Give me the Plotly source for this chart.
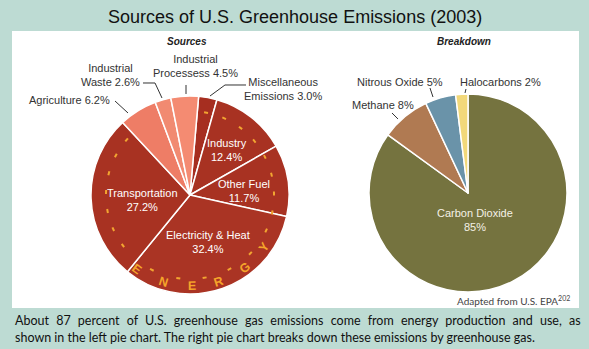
import math
import plotly.graph_objects as go

W, H = 589, 349

# ---------------- data ----------------
src_labels = ["Miscellaneous Emissions", "Industry", "Other Fuel", "Electricity & Heat",
              "Transportation", "Agriculture", "Industrial Waste", "Industrial Processess"]
src_values = [3.0, 12.4, 11.7, 32.4, 27.2, 6.2, 2.6, 4.5]
src_colors = ["#a62e20", "#a83222", "#a83222", "#aa3424", "#a83222",
              "#ee7d66", "#f18a71", "#f48b72"]

gas_labels = ["Carbon Dioxide", "Methane", "Nitrous Oxide", "Halocarbons"]
gas_values = [85, 8, 5, 2]
gas_colors = ["#75733f", "#b07a52", "#6a93a9", "#f2d87a"]

energy_letters = ["E", "N", "E", "R", "G", "Y"]


def px(x):
    return x / W


def py(y):
    return 1 - y / H


fig = go.Figure()

# left pie: center (190,195) r 99
fig.add_trace(go.Pie(
    labels=src_labels, values=src_values, sort=False, direction="clockwise",
    rotation=5, textinfo="none", hoverinfo="label+percent",
    marker=dict(colors=src_colors, line=dict(color="white", width=1.5)),
    domain=dict(x=[px(91), px(289)], y=[py(294), py(96)]),
    showlegend=False,
))
# right pie: center (468,193) r 99
fig.add_trace(go.Pie(
    labels=gas_labels, values=gas_values, sort=False, direction="clockwise",
    rotation=0, textinfo="none", hoverinfo="label+percent",
    marker=dict(colors=gas_colors, line=dict(color="white", width=1.5)),
    domain=dict(x=[px(369), px(567)], y=[py(292), py(94)]),
    showlegend=False,
))

shapes = []
# background white panel
shapes.append(dict(type="rect", xref="paper", yref="paper", layer="below",
                   x0=px(12), x1=px(579), y0=py(308), y1=py(31),
                   fillcolor="white", line=dict(width=0)))

# leader lines (pixel polylines)
leaders = [
    [(115, 101), (128, 113)],
    [(143, 83), (155, 83), (162, 98)],
    [(186, 85), (186, 94)],
    [(210, 96), (225, 85), (246, 85)],
    [(392, 113), (398, 119)],
    [(430, 88), (433, 97)],
    [(466, 89), (465, 93)],
]
for pts in leaders:
    path = "M " + " L ".join(f"{px(x):.5f},{py(y):.5f}" for x, y in pts)
    shapes.append(dict(type="path", xref="paper", yref="paper", layer="above",
                       path=path, line=dict(color="#333333", width=1)))

# orange rim dashes on the energy part of the left pie
cx, cy = 190, 195
dash_angles = [11, 24, 37, 50, 63, 76, 89, 102, 115,
               134, 152, 170, 188, 207,
               233, 246, 259, 272, 285, 298, 311]
rd = 84
for a in dash_angles:
    t = math.radians(a)
    x = cx + rd * math.sin(t)
    y = cy - rd * math.cos(t)
    tx, ty = math.cos(t), math.sin(t)
    L = 2
    shapes.append(dict(type="line", xref="paper", yref="paper", layer="above",
                       x0=px(x - L * tx), y0=py(y - L * ty),
                       x1=px(x + L * tx), y1=py(y + L * ty),
                       line=dict(color="#f2a531", width=2)))

annotations = []


def ann(x, y, text, size=11, color="#333333", family="Liberation Sans", xanchor="center",
        angle=0, bold=False):
    annotations.append(dict(x=px(x), y=py(y), xref="paper", yref="paper", text=text,
                            showarrow=False, xanchor=xanchor, yanchor="middle",
                            textangle=angle,
                            font=dict(size=size, color=color, family=family,
                                      weight="bold" if bold else "normal")))


# title
ann(294.5, 17, "Sources of U.S. Greenhouse Emissions (2003)", size=18, color="#111111")
# subtitles
ann(187, 42, "<b><i>Sources</i></b>", size=10, color="#222222")
ann(464, 42, "<b><i>Breakdown</i></b>", size=10, color="#222222")

# outside labels (left)
ann(27, 100, f"{src_labels[5]} {src_values[5]}%", xanchor="left")
ann(110, 74.5, f"Industrial<br>Waste {src_values[6]}%")
ann(195, 66.5, f"Industrial<br>Processess {src_values[7]}%")
ann(242, 89, f"Miscellaneous<br>Emissions {src_values[0]:.1f}%", xanchor="left")
# inside labels (left)
ann(227, 150, f"{src_labels[1]}<br>{src_values[1]}%", color="white")
ann(244, 191, f"{src_labels[2]}<br>{src_values[2]}%", color="white")
ann(142, 200, f"{src_labels[4]}<br>{src_values[4]}%", color="white")
ann(208, 242, f"{src_labels[3]}<br>{src_values[3]}%", color="white")

# right labels
ann(350, 105, f"{gas_labels[1]} {gas_values[1]}%", xanchor="left")
ann(355, 82, f"{gas_labels[2]} {gas_values[2]}%", xanchor="left")
ann(458, 82, f"{gas_labels[3]} {gas_values[3]}%", xanchor="left")
ann(475, 219.5, f"{gas_labels[0]}<br>{gas_values[0]}%", color="#f4f1e6")

# ENERGY letters
letter_angles = [216, 197, 179, 162, 143, 125]
rl = 91
for ch, a in zip(energy_letters, letter_angles):
    t = math.radians(a)
    x = cx + rl * math.sin(t)
    y = cy - rl * math.cos(t)
    ann(x, y, ch, size=12.5, color="#f5a52a", angle=a - 180, bold=True)

# source note
annotations.append(dict(x=px(572), y=py(300), xref="paper", yref="paper",
                        text="Adapted from U.S. EPA<sup>202</sup>", showarrow=False,
                        xanchor="right", yanchor="middle",
                        font=dict(size=10, color="#444444", family="Lato")))
# caption (first line justified by widening the word gaps)
gap = " \u00a0\u200a"
line1 = gap.join("About 87 percent of U.S. greenhouse gas emissions come from energy production and use, as".split(" "))
ann(13, 320, line1, size=12.5, color="#111111", family="Lato", xanchor="left")
ann(13, 337, "shown in the left pie chart. The right pie chart breaks down these emissions by greenhouse gas.",
    size=12.5, color="#111111", family="Lato", xanchor="left")

fig.update_layout(
    width=W, height=H, margin=dict(l=0, r=0, t=0, b=0),
    paper_bgcolor="#bddbd3", plot_bgcolor="#bddbd3",
    shapes=shapes, annotations=annotations,
)

fig.write_html("out.html")
